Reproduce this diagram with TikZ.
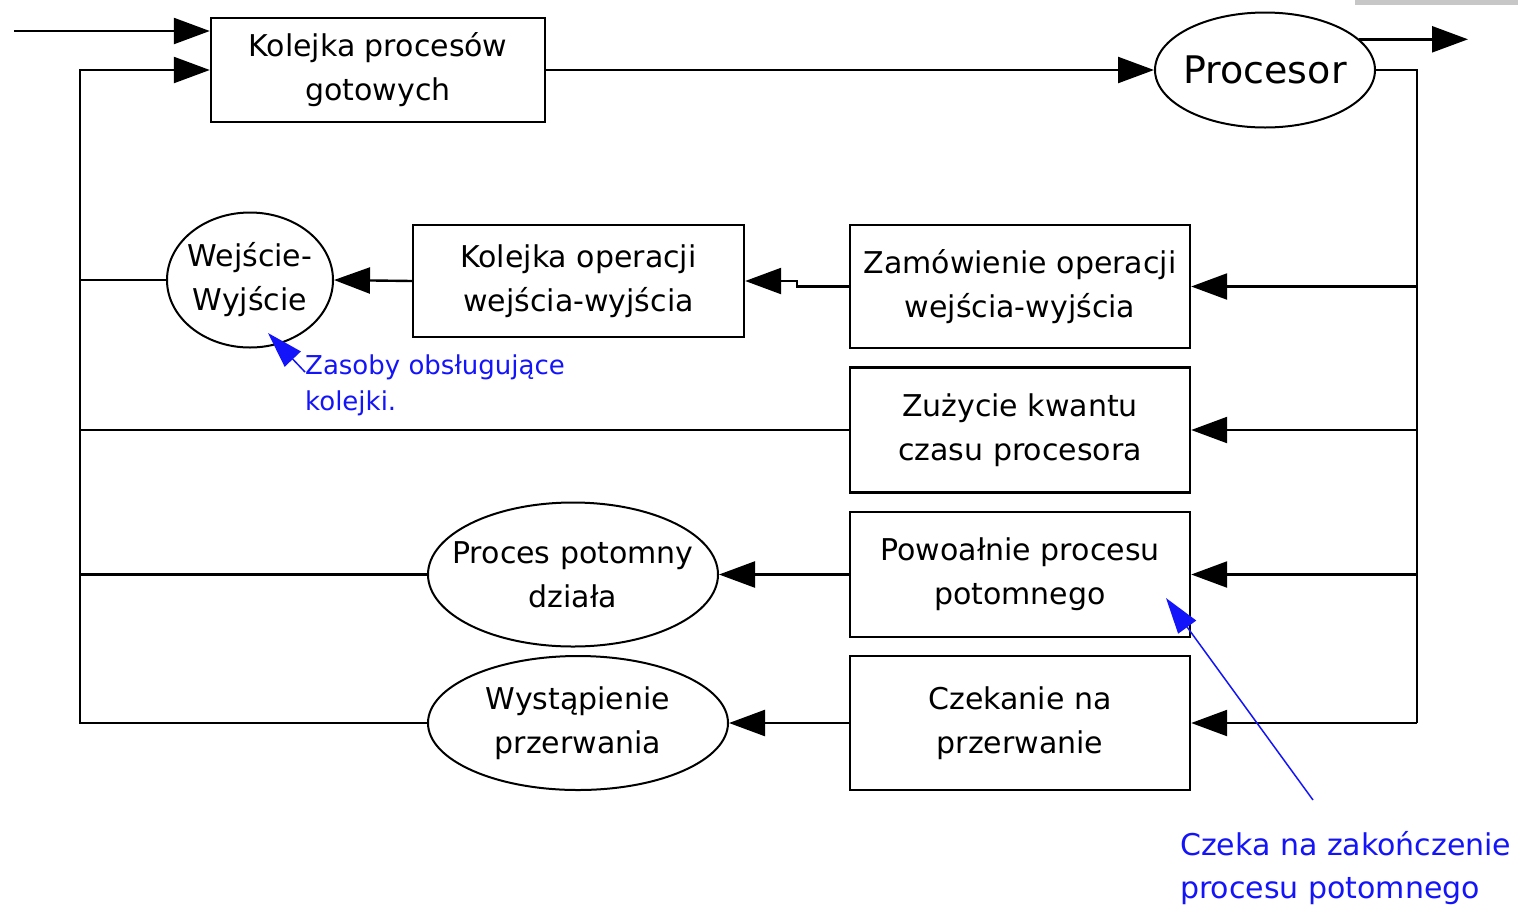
\documentclass[tikz,border=0pt]{standalone}
\usepackage{fontspec}
\setmainfont{DejaVu Sans}
\usetikzlibrary{arrows.meta,shapes.geometric}
\definecolor{noteblue}{RGB}{20,20,250}
\tikzset{
  txt/.style={font=\fontsize{30}{44}\selectfont, align=center, inner sep=0pt},
  box/.style={txt, draw, line width=2.4pt, minimum width=#1},
  oval/.style={ellipse, draw, line width=2pt, inner sep=0pt},
  ovaltext/.style={label={[txt]center:#1}},
  link/.style={line width=2.4pt},
  arr/.style={link, -{Triangle[length=36pt,width=26pt]}},
  note/.style={font=\fontsize{26}{36}\selectfont, text=noteblue, align=left, inner sep=0pt, anchor=north west},
  notearr/.style={noteblue, line width=1.5pt, -{Triangle[length=36pt,width=22pt]}}
}
\begin{document}
\begin{tikzpicture}[x=1pt,y=-1pt]
\useasboundingbox (0,0) rectangle (1518,906);
% stray strip at the top edge
\fill[black!22] (1355,0) rectangle (1518,5);

% nodes
\node[box=334, minimum height=104] (ready) at (378,70) {Kolejka procesów\\gotowych};
\node[oval, minimum width=220, minimum height=115,
      label={[txt, font=\fontsize{38}{44}\selectfont]center:Procesor}] (cpu) at (1265,70) {};
\node[box=340, minimum height=123] (req)  at (1020,286.5) {Zamówienie operacji\\wejścia-wyjścia};
\node[box=340, minimum height=125] (slice) at (1020,430) {Zużycie kwantu\\czasu procesora};
\node[box=340, minimum height=125] (fork) at (1020,574.5) {Powoałnie procesu\\potomnego};
\node[box=340, minimum height=134] (wait) at (1020,723) {Czekanie na\\przerwanie};
\node[box=331, minimum height=112] (ioq) at (578.5,281) {Kolejka operacji\\wejścia-wyjścia};
\node[oval, minimum width=166, minimum height=135, ovaltext={Wejście-\\Wyjście}] (io) at (250,280) {};
\node[oval, minimum width=290, minimum height=144, ovaltext={Proces potomny\\działa}] (child) at (573,574.5) {};
\node[oval, minimum width=300, minimum height=134, ovaltext={Wystąpienie\\przerwania}] (intr) at (578,723) {};

\node[note] (noteio) at (305,355) {Zasoby obsługujące\\kolejki.};
\node[note, font=\fontsize{30}{43}\selectfont] (notechild) at (1180,831) {Czeka na zakończenie\\procesu potomnego};

% helper coordinates
\coordinate (start) at (14,31);
\coordinate (out) at (1468,40);
\coordinate (lbus) at (80,0);
\coordinate (rbus) at (1417,0);
\coordinate (jog) at (797,281);
\coordinate (ioTail) at (305,372);
\coordinate (ioTip) at (268,333);
\coordinate (childTail) at (1313,800);
\coordinate (childTip) at (1166,598);

% main cycle
\draw[arr] (start) -- (ready.west |- start);
\draw[arr] (ready.east) -- (cpu.west);
\draw[arr] (cpu.18) -- (cpu.18 -| out);
\draw[link] (cpu.east) -- (rbus |- cpu.east) -- (rbus |- wait.east);

% branches from the processor
\draw[arr] (rbus |- req.east) -- (req.east);
\draw[arr] (rbus |- slice.east) -- (slice.east);
\draw[arr] (rbus |- fork.east) -- (fork.east);
\draw[arr] (rbus |- wait.east) -- (wait.east);

\draw[arr] (req.west) -- (jog |- req.west) -- (jog) -- (ioq.east);
\draw[arr] (ioq.west) -- (io.east);
\draw[arr] (fork.west) -- (child.east);
\draw[arr] (wait.west) -- (intr.east);

% returns to the ready queue
\draw[arr] (intr.west) -- (lbus |- intr.west) -- (lbus |- ready.west) -- (ready.west);
\draw[link] (child.west) -- (lbus |- child.west);
\draw[link] (slice.west) -- (lbus |- slice.west);
\draw[link] (io.west) -- (lbus |- io.west);

% annotations
\draw[notearr] (ioTail) -- (ioTip);
\draw[notearr] (childTail) -- (childTip);
\end{tikzpicture}
\end{document}
